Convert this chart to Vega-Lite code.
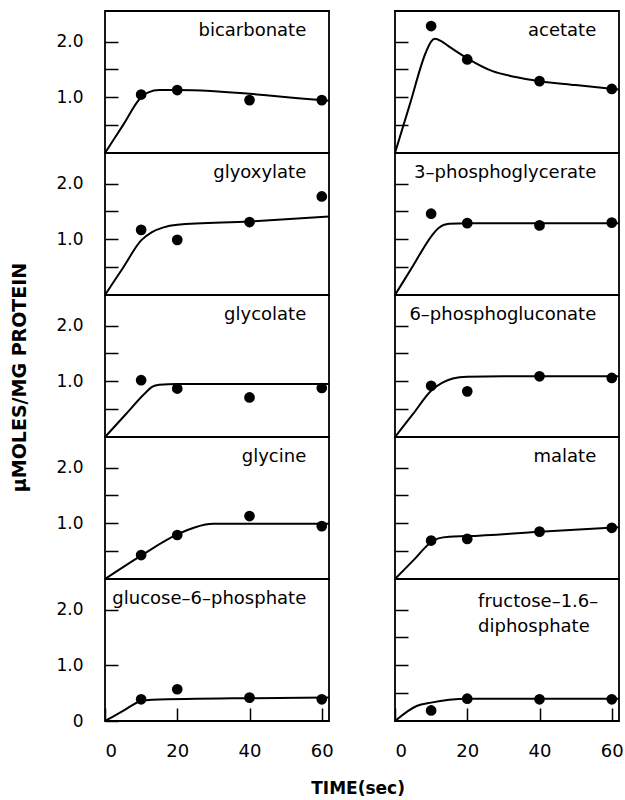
{
  "$schema": "https://vega.github.io/schema/vega-lite/v6.json",
  "padding": {"left": 10, "top": 10, "right": 0, "bottom": 0},
  "background": "white",
  "title": {"text": "TIME(sec)", "orient": "bottom", "anchor": "middle", "fontSize": 17, "fontWeight": "bold", "font": "DejaVu Sans", "color": "black", "offset": 20, "dx": 41},
  "datasets": {
    "pts": [
      {"panel": "bic", "t": 10, "v": 1.05}, {"panel": "bic", "t": 20, "v": 1.13}, {"panel": "bic", "t": 40, "v": 0.95}, {"panel": "bic", "t": 60, "v": 0.95},
      {"panel": "glyox", "t": 10, "v": 1.17}, {"panel": "glyox", "t": 20, "v": 0.99}, {"panel": "glyox", "t": 40, "v": 1.31}, {"panel": "glyox", "t": 60, "v": 1.77},
      {"panel": "glycol", "t": 10, "v": 1.02}, {"panel": "glycol", "t": 20, "v": 0.87}, {"panel": "glycol", "t": 40, "v": 0.71}, {"panel": "glycol", "t": 60, "v": 0.88},
      {"panel": "glycine", "t": 10, "v": 0.43}, {"panel": "glycine", "t": 20, "v": 0.79}, {"panel": "glycine", "t": 40, "v": 1.13}, {"panel": "glycine", "t": 60, "v": 0.95},
      {"panel": "g6p", "t": 10, "v": 0.39}, {"panel": "g6p", "t": 20, "v": 0.57}, {"panel": "g6p", "t": 40, "v": 0.42}, {"panel": "g6p", "t": 60, "v": 0.39},
      {"panel": "acet", "t": 10, "v": 2.28}, {"panel": "acet", "t": 20, "v": 1.68}, {"panel": "acet", "t": 40, "v": 1.29}, {"panel": "acet", "t": 60, "v": 1.15},
      {"panel": "pga", "t": 10, "v": 1.46}, {"panel": "pga", "t": 20, "v": 1.29}, {"panel": "pga", "t": 40, "v": 1.25}, {"panel": "pga", "t": 60, "v": 1.3},
      {"panel": "6pg", "t": 10, "v": 0.92}, {"panel": "6pg", "t": 20, "v": 0.82}, {"panel": "6pg", "t": 40, "v": 1.09}, {"panel": "6pg", "t": 60, "v": 1.06},
      {"panel": "mal", "t": 10, "v": 0.69}, {"panel": "mal", "t": 20, "v": 0.72}, {"panel": "mal", "t": 40, "v": 0.85}, {"panel": "mal", "t": 60, "v": 0.92},
      {"panel": "fdp", "t": 10, "v": 0.19}, {"panel": "fdp", "t": 20, "v": 0.4}, {"panel": "fdp", "t": 40, "v": 0.39}, {"panel": "fdp", "t": 60, "v": 0.39}
    ],
    "curve": [
      {"panel": "bic", "t": 0, "v": 0}, {"panel": "bic", "t": 5, "v": 0.5}, {"panel": "bic", "t": 10, "v": 1.0}, {"panel": "bic", "t": 12, "v": 1.09}, {"panel": "bic", "t": 15, "v": 1.13}, {"panel": "bic", "t": 20, "v": 1.13}, {"panel": "bic", "t": 60, "v": 0.95}, {"panel": "bic", "t": 62, "v": 0.94},
      {"panel": "glyox", "t": 0, "v": 0}, {"panel": "glyox", "t": 5, "v": 0.49}, {"panel": "glyox", "t": 10, "v": 0.98}, {"panel": "glyox", "t": 13, "v": 1.13}, {"panel": "glyox", "t": 16, "v": 1.21}, {"panel": "glyox", "t": 20, "v": 1.26}, {"panel": "glyox", "t": 40, "v": 1.32}, {"panel": "glyox", "t": 62, "v": 1.41},
      {"panel": "glycol", "t": 0, "v": 0}, {"panel": "glycol", "t": 5.5, "v": 0.39}, {"panel": "glycol", "t": 11, "v": 0.78}, {"panel": "glycol", "t": 13, "v": 0.9}, {"panel": "glycol", "t": 15, "v": 0.94}, {"panel": "glycol", "t": 20, "v": 0.95}, {"panel": "glycol", "t": 62, "v": 0.95},
      {"panel": "glycine", "t": 0, "v": 0}, {"panel": "glycine", "t": 10, "v": 0.42}, {"panel": "glycine", "t": 20, "v": 0.8}, {"panel": "glycine", "t": 25, "v": 0.93}, {"panel": "glycine", "t": 30, "v": 0.99}, {"panel": "glycine", "t": 62, "v": 0.99},
      {"panel": "g6p", "t": 0, "v": 0}, {"panel": "g6p", "t": 5, "v": 0.18}, {"panel": "g6p", "t": 10, "v": 0.36}, {"panel": "g6p", "t": 13, "v": 0.38}, {"panel": "g6p", "t": 40, "v": 0.41}, {"panel": "g6p", "t": 62, "v": 0.42},
      {"panel": "acet", "t": 0, "v": 0}, {"panel": "acet", "t": 4, "v": 0.85}, {"panel": "acet", "t": 8.5, "v": 1.8}, {"panel": "acet", "t": 10, "v": 2.0}, {"panel": "acet", "t": 11, "v": 2.05}, {"panel": "acet", "t": 13, "v": 2.0}, {"panel": "acet", "t": 15, "v": 1.91}, {"panel": "acet", "t": 20, "v": 1.7}, {"panel": "acet", "t": 27, "v": 1.47}, {"panel": "acet", "t": 33, "v": 1.37}, {"panel": "acet", "t": 40, "v": 1.29}, {"panel": "acet", "t": 50, "v": 1.22}, {"panel": "acet", "t": 62, "v": 1.14},
      {"panel": "pga", "t": 0, "v": 0}, {"panel": "pga", "t": 5, "v": 0.525}, {"panel": "pga", "t": 10, "v": 1.05}, {"panel": "pga", "t": 12, "v": 1.2}, {"panel": "pga", "t": 15, "v": 1.28}, {"panel": "pga", "t": 20, "v": 1.29}, {"panel": "pga", "t": 62, "v": 1.29},
      {"panel": "6pg", "t": 0, "v": 0}, {"panel": "6pg", "t": 5, "v": 0.415}, {"panel": "6pg", "t": 10, "v": 0.83}, {"panel": "6pg", "t": 13, "v": 0.97}, {"panel": "6pg", "t": 16, "v": 1.05}, {"panel": "6pg", "t": 20, "v": 1.08}, {"panel": "6pg", "t": 30, "v": 1.09}, {"panel": "6pg", "t": 62, "v": 1.09},
      {"panel": "mal", "t": 0, "v": 0}, {"panel": "mal", "t": 5, "v": 0.33}, {"panel": "mal", "t": 10, "v": 0.66}, {"panel": "mal", "t": 12, "v": 0.73}, {"panel": "mal", "t": 15, "v": 0.76}, {"panel": "mal", "t": 20, "v": 0.77}, {"panel": "mal", "t": 40, "v": 0.85}, {"panel": "mal", "t": 62, "v": 0.93},
      {"panel": "fdp", "t": 0, "v": 0}, {"panel": "fdp", "t": 6, "v": 0.27}, {"panel": "fdp", "t": 10, "v": 0.33}, {"panel": "fdp", "t": 15, "v": 0.38}, {"panel": "fdp", "t": 20, "v": 0.4}, {"panel": "fdp", "t": 62, "v": 0.4}
    ],
    "names": [
      {"panel": "bic", "name": "bicarbonate"},
      {"panel": "glyox", "name": "glyoxylate"},
      {"panel": "glycol", "name": "glycolate"},
      {"panel": "glycine", "name": "glycine"},
      {"panel": "g6p", "name": "glucose–6–phosphate"},
      {"panel": "acet", "name": "acetate"},
      {"panel": "pga", "name": "3–phosphoglycerate"},
      {"panel": "6pg", "name": "6–phosphogluconate"},
      {"panel": "mal", "name": "malate"},
      {"panel": "fdp", "name": "fructose–1.6–|diphosphate"}
    ]
  },
  "columns": 2,
  "spacing": {"row": 0, "column": 66},
  "bounds": "flush",
  "concat": [
    {
      "width": 224, "height": 142,
      "layer": [
        {"data": {"name": "curve"}, "transform": [{"filter": "datum.panel == 'bic'"}], "mark": {"type": "line", "interpolate": "monotone", "color": "black", "strokeWidth": 2, "clip": true},
         "encoding": {"x": {"field": "t", "type": "quantitative", "scale": {"domain": [0, 62], "nice": false, "zero": false}, "axis": null},
                      "y": {"field": "v", "type": "quantitative", "scale": {"domain": [0, 2.55], "nice": false}, "axis": {"values": [0.5, 1, 1.5, 2], "labelExpr": "datum.value == 1 ? '1.0' : datum.value == 2 ? '2.0' : ''", "title": null}}}},
        {"data": {"name": "pts"}, "transform": [{"filter": "datum.panel == 'bic'"}], "mark": {"type": "circle", "size": 115, "color": "black", "opacity": 1},
         "encoding": {"x": {"field": "t", "type": "quantitative"}, "y": {"field": "v", "type": "quantitative"}}},
        {"data": {"name": "names"}, "transform": [{"filter": "datum.panel == 'bic'"}], "mark": {"type": "text", "align": "right", "baseline": "alphabetic", "fontSize": 18, "font": "DejaVu Sans", "color": "black"},
         "encoding": {"x": {"datum": 55.7, "type": "quantitative"}, "y": {"datum": 2.1, "type": "quantitative"}, "text": {"field": "name", "type": "nominal"}}}
      ]
    },
    {
      "width": 224, "height": 142,
      "layer": [
        {"data": {"name": "curve"}, "transform": [{"filter": "datum.panel == 'acet'"}], "mark": {"type": "line", "interpolate": "monotone", "color": "black", "strokeWidth": 2, "clip": true},
         "encoding": {"x": {"field": "t", "type": "quantitative", "scale": {"domain": [0, 62], "nice": false, "zero": false}, "axis": null},
                      "y": {"field": "v", "type": "quantitative", "scale": {"domain": [0, 2.55], "nice": false}, "axis": {"values": [0.5, 1, 1.5, 2], "labels": false, "title": null}}}},
        {"data": {"name": "pts"}, "transform": [{"filter": "datum.panel == 'acet'"}], "mark": {"type": "circle", "size": 115, "color": "black", "opacity": 1},
         "encoding": {"x": {"field": "t", "type": "quantitative"}, "y": {"field": "v", "type": "quantitative"}}},
        {"data": {"name": "names"}, "transform": [{"filter": "datum.panel == 'acet'"}], "mark": {"type": "text", "align": "right", "baseline": "alphabetic", "fontSize": 18, "font": "DejaVu Sans", "color": "black"},
         "encoding": {"x": {"datum": 55.7, "type": "quantitative"}, "y": {"datum": 2.1, "type": "quantitative"}, "text": {"field": "name", "type": "nominal"}}}
      ]
    },
    {
      "width": 224, "height": 142,
      "layer": [
        {"data": {"name": "curve"}, "transform": [{"filter": "datum.panel == 'glyox'"}], "mark": {"type": "line", "interpolate": "monotone", "color": "black", "strokeWidth": 2, "clip": true},
         "encoding": {"x": {"field": "t", "type": "quantitative", "scale": {"domain": [0, 62], "nice": false, "zero": false}, "axis": null},
                      "y": {"field": "v", "type": "quantitative", "scale": {"domain": [0, 2.55], "nice": false}, "axis": {"values": [0.5, 1, 1.5, 2], "labelExpr": "datum.value == 1 ? '1.0' : datum.value == 2 ? '2.0' : ''", "title": null}}}},
        {"data": {"name": "pts"}, "transform": [{"filter": "datum.panel == 'glyox'"}], "mark": {"type": "circle", "size": 115, "color": "black", "opacity": 1},
         "encoding": {"x": {"field": "t", "type": "quantitative"}, "y": {"field": "v", "type": "quantitative"}}},
        {"data": {"name": "names"}, "transform": [{"filter": "datum.panel == 'glyox'"}], "mark": {"type": "text", "align": "right", "baseline": "alphabetic", "fontSize": 18, "font": "DejaVu Sans", "color": "black"},
         "encoding": {"x": {"datum": 55.7, "type": "quantitative"}, "y": {"datum": 2.1, "type": "quantitative"}, "text": {"field": "name", "type": "nominal"}}}
      ]
    },
    {
      "width": 224, "height": 142,
      "layer": [
        {"data": {"name": "curve"}, "transform": [{"filter": "datum.panel == 'pga'"}], "mark": {"type": "line", "interpolate": "monotone", "color": "black", "strokeWidth": 2, "clip": true},
         "encoding": {"x": {"field": "t", "type": "quantitative", "scale": {"domain": [0, 62], "nice": false, "zero": false}, "axis": null},
                      "y": {"field": "v", "type": "quantitative", "scale": {"domain": [0, 2.55], "nice": false}, "axis": {"values": [0.5, 1, 1.5, 2], "labels": false, "title": null}}}},
        {"data": {"name": "pts"}, "transform": [{"filter": "datum.panel == 'pga'"}], "mark": {"type": "circle", "size": 115, "color": "black", "opacity": 1},
         "encoding": {"x": {"field": "t", "type": "quantitative"}, "y": {"field": "v", "type": "quantitative"}}},
        {"data": {"name": "names"}, "transform": [{"filter": "datum.panel == 'pga'"}], "mark": {"type": "text", "align": "right", "baseline": "alphabetic", "fontSize": 18, "font": "DejaVu Sans", "color": "black"},
         "encoding": {"x": {"datum": 55.7, "type": "quantitative"}, "y": {"datum": 2.1, "type": "quantitative"}, "text": {"field": "name", "type": "nominal"}}}
      ]
    },
    {
      "width": 224, "height": 142,
      "layer": [
        {"data": {"name": "curve"}, "transform": [{"filter": "datum.panel == 'glycol'"}], "mark": {"type": "line", "interpolate": "monotone", "color": "black", "strokeWidth": 2, "clip": true},
         "encoding": {"x": {"field": "t", "type": "quantitative", "scale": {"domain": [0, 62], "nice": false, "zero": false}, "axis": null},
                      "y": {"field": "v", "type": "quantitative", "scale": {"domain": [0, 2.55], "nice": false}, "axis": {"values": [0.5, 1, 1.5, 2], "labelExpr": "datum.value == 1 ? '1.0' : datum.value == 2 ? '2.0' : ''", "title": "μMOLES/MG PROTEIN", "titleFontSize": 19, "titleFontWeight": "bold", "titlePadding": 26, "titleY": 82}}}},
        {"data": {"name": "pts"}, "transform": [{"filter": "datum.panel == 'glycol'"}], "mark": {"type": "circle", "size": 115, "color": "black", "opacity": 1},
         "encoding": {"x": {"field": "t", "type": "quantitative"}, "y": {"field": "v", "type": "quantitative"}}},
        {"data": {"name": "names"}, "transform": [{"filter": "datum.panel == 'glycol'"}], "mark": {"type": "text", "align": "right", "baseline": "alphabetic", "fontSize": 18, "font": "DejaVu Sans", "color": "black"},
         "encoding": {"x": {"datum": 55.7, "type": "quantitative"}, "y": {"datum": 2.1, "type": "quantitative"}, "text": {"field": "name", "type": "nominal"}}}
      ]
    },
    {
      "width": 224, "height": 142,
      "layer": [
        {"data": {"name": "curve"}, "transform": [{"filter": "datum.panel == '6pg'"}], "mark": {"type": "line", "interpolate": "monotone", "color": "black", "strokeWidth": 2, "clip": true},
         "encoding": {"x": {"field": "t", "type": "quantitative", "scale": {"domain": [0, 62], "nice": false, "zero": false}, "axis": null},
                      "y": {"field": "v", "type": "quantitative", "scale": {"domain": [0, 2.55], "nice": false}, "axis": {"values": [0.5, 1, 1.5, 2], "labels": false, "title": null}}}},
        {"data": {"name": "pts"}, "transform": [{"filter": "datum.panel == '6pg'"}], "mark": {"type": "circle", "size": 115, "color": "black", "opacity": 1},
         "encoding": {"x": {"field": "t", "type": "quantitative"}, "y": {"field": "v", "type": "quantitative"}}},
        {"data": {"name": "names"}, "transform": [{"filter": "datum.panel == '6pg'"}], "mark": {"type": "text", "align": "right", "baseline": "alphabetic", "fontSize": 18, "font": "DejaVu Sans", "color": "black"},
         "encoding": {"x": {"datum": 55.7, "type": "quantitative"}, "y": {"datum": 2.1, "type": "quantitative"}, "text": {"field": "name", "type": "nominal"}}}
      ]
    },
    {
      "width": 224, "height": 142,
      "layer": [
        {"data": {"name": "curve"}, "transform": [{"filter": "datum.panel == 'glycine'"}], "mark": {"type": "line", "interpolate": "monotone", "color": "black", "strokeWidth": 2, "clip": true},
         "encoding": {"x": {"field": "t", "type": "quantitative", "scale": {"domain": [0, 62], "nice": false, "zero": false}, "axis": null},
                      "y": {"field": "v", "type": "quantitative", "scale": {"domain": [0, 2.55], "nice": false}, "axis": {"values": [0.5, 1, 1.5, 2], "labelExpr": "datum.value == 1 ? '1.0' : datum.value == 2 ? '2.0' : ''", "title": null}}}},
        {"data": {"name": "pts"}, "transform": [{"filter": "datum.panel == 'glycine'"}], "mark": {"type": "circle", "size": 115, "color": "black", "opacity": 1},
         "encoding": {"x": {"field": "t", "type": "quantitative"}, "y": {"field": "v", "type": "quantitative"}}},
        {"data": {"name": "names"}, "transform": [{"filter": "datum.panel == 'glycine'"}], "mark": {"type": "text", "align": "right", "baseline": "alphabetic", "fontSize": 18, "font": "DejaVu Sans", "color": "black"},
         "encoding": {"x": {"datum": 55.7, "type": "quantitative"}, "y": {"datum": 2.1, "type": "quantitative"}, "text": {"field": "name", "type": "nominal"}}}
      ]
    },
    {
      "width": 224, "height": 142,
      "layer": [
        {"data": {"name": "curve"}, "transform": [{"filter": "datum.panel == 'mal'"}], "mark": {"type": "line", "interpolate": "monotone", "color": "black", "strokeWidth": 2, "clip": true},
         "encoding": {"x": {"field": "t", "type": "quantitative", "scale": {"domain": [0, 62], "nice": false, "zero": false}, "axis": null},
                      "y": {"field": "v", "type": "quantitative", "scale": {"domain": [0, 2.55], "nice": false}, "axis": {"values": [0.5, 1, 1.5, 2], "labels": false, "title": null}}}},
        {"data": {"name": "pts"}, "transform": [{"filter": "datum.panel == 'mal'"}], "mark": {"type": "circle", "size": 115, "color": "black", "opacity": 1},
         "encoding": {"x": {"field": "t", "type": "quantitative"}, "y": {"field": "v", "type": "quantitative"}}},
        {"data": {"name": "names"}, "transform": [{"filter": "datum.panel == 'mal'"}], "mark": {"type": "text", "align": "right", "baseline": "alphabetic", "fontSize": 18, "font": "DejaVu Sans", "color": "black"},
         "encoding": {"x": {"datum": 55.7, "type": "quantitative"}, "y": {"datum": 2.1, "type": "quantitative"}, "text": {"field": "name", "type": "nominal"}}}
      ]
    },
    {
      "width": 224, "height": 142,
      "layer": [
        {"data": {"name": "curve"}, "transform": [{"filter": "datum.panel == 'g6p'"}], "mark": {"type": "line", "interpolate": "monotone", "color": "black", "strokeWidth": 2, "clip": true},
         "encoding": {"x": {"field": "t", "type": "quantitative", "scale": {"domain": [0, 62], "nice": false, "zero": false}, "axis": {"values": [0, 20, 40, 60], "labelFontSize": 18, "labelPadding": 34, "title": null}},
                      "y": {"field": "v", "type": "quantitative", "scale": {"domain": [0, 2.55], "nice": false}, "axis": {"values": [0, 0.5, 1, 1.5, 2], "labelExpr": "datum.value == 0 ? '0' : datum.value == 1 ? '1.0' : datum.value == 2 ? '2.0' : ''", "title": null}}}},
        {"data": {"name": "pts"}, "transform": [{"filter": "datum.panel == 'g6p'"}], "mark": {"type": "circle", "size": 115, "color": "black", "opacity": 1},
         "encoding": {"x": {"field": "t", "type": "quantitative"}, "y": {"field": "v", "type": "quantitative"}}},
        {"data": {"name": "names"}, "transform": [{"filter": "datum.panel == 'g6p'"}], "mark": {"type": "text", "align": "right", "baseline": "alphabetic", "fontSize": 18, "font": "DejaVu Sans", "color": "black"},
         "encoding": {"x": {"datum": 55.7, "type": "quantitative"}, "y": {"datum": 2.1, "type": "quantitative"}, "text": {"field": "name", "type": "nominal"}}}
      ]
    },
    {
      "width": 224, "height": 142,
      "layer": [
        {"data": {"name": "curve"}, "transform": [{"filter": "datum.panel == 'fdp'"}], "mark": {"type": "line", "interpolate": "monotone", "color": "black", "strokeWidth": 2, "clip": true},
         "encoding": {"x": {"field": "t", "type": "quantitative", "scale": {"domain": [0, 62], "nice": false, "zero": false}, "axis": {"values": [0, 20, 40, 60], "labelFontSize": 18, "labelPadding": 34, "title": null}},
                      "y": {"field": "v", "type": "quantitative", "scale": {"domain": [0, 2.55], "nice": false}, "axis": {"values": [0.5, 1, 1.5, 2], "labels": false, "title": null}}}},
        {"data": {"name": "pts"}, "transform": [{"filter": "datum.panel == 'fdp'"}], "mark": {"type": "circle", "size": 115, "color": "black", "opacity": 1},
         "encoding": {"x": {"field": "t", "type": "quantitative"}, "y": {"field": "v", "type": "quantitative"}}},
        {"data": {"name": "names"}, "transform": [{"filter": "datum.panel == 'fdp'"}], "mark": {"type": "text", "align": "left", "baseline": "alphabetic", "fontSize": 18, "lineHeight": 25, "lineBreak": "|", "font": "DejaVu Sans", "color": "black"},
         "encoding": {"x": {"datum": 23, "type": "quantitative"}, "y": {"datum": 2.05, "type": "quantitative"}, "text": {"field": "name", "type": "nominal"}}}
      ]
    }
  ],
  "config": {
    "font": "DejaVu Sans",
    "view": {"stroke": "black", "strokeWidth": 1.8},
    "axis": {"domain": false, "grid": false, "tickColor": "black", "tickSize": -13, "tickWidth": 1.5, "labelFont": "DejaVu Sans", "labelFontSize": 17, "labelColor": "black", "labelPadding": 35, "titleFont": "DejaVu Sans", "titleColor": "black"}
  }
}
